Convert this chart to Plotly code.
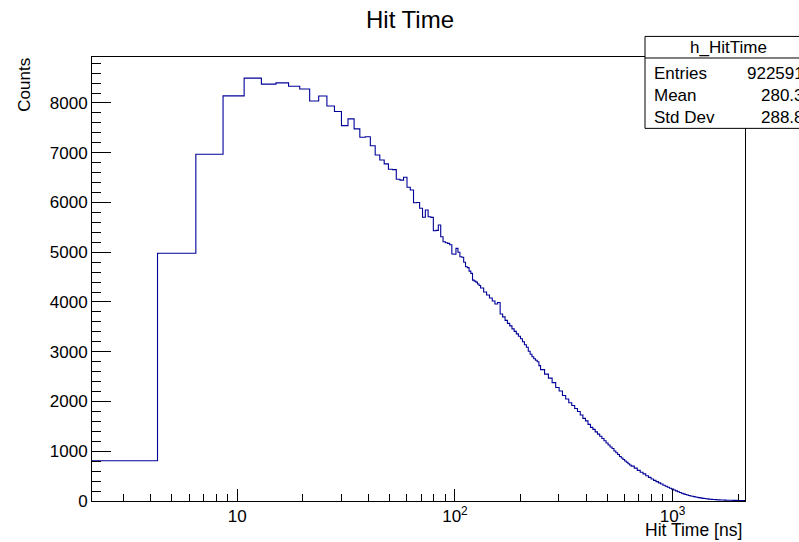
import plotly.graph_objects as go

# ---------------- data ----------------
bin_width = 2.15          # ns, 1000 bins from 0 to 2150 ns
n_bins_total = 1000

# bins 1..60, one original bin each (lower edge = 2.15*i)
counts_fine = [810, 4980, 6970, 8143, 8499, 8378, 8404, 8335, 8280, 8040,
               8140, 7940, 7830, 7545, 7680, 7480, 7310, 7320, 7140, 6955,
               6855, 6775, 6668, 6660, 6467, 6450, 6507, 6306, 6250, 5996,
               6000, 5883, 5702, 5849, 5714, 5700, 5433, 5440, 5547, 5312,
               5211, 5190, 5179, 5150, 4964, 4960, 5078, 5000, 4910, 4900,
               4800, 4708, 4690, 4620, 4575, 4440, 4420, 4400, 4360, 4330]
# from bin 61: groups of 2 original bins (27 groups)
counts_mid = [4280, 4200, 4140, 4080, 4020, 3960, 3990, 3760, 3700, 3630,
              3570, 3520, 3460, 3410, 3360, 3310, 3260, 3200, 3140, 3090,
              3010, 2950, 2900, 2860, 2830, 2800, 2720]
# from bin 115: groups of 5 original bins (37 groups)
counts_tail = [2640, 2550, 2470, 2380, 2280, 2210, 2120, 2050, 1975, 1920,
               1860, 1800, 1730, 1660, 1610, 1540, 1480, 1440, 1390, 1345,
               1300, 1255, 1210, 1165, 1125, 1085, 1055, 1005, 970, 935,
               895, 865, 835, 805, 780, 750, 725]
# from bin 300: groups of 10 original bins (70 groups)
counts_far = [700, 660, 615, 578, 545, 508, 475, 442, 415, 390,
              365, 342, 318, 297, 276, 256, 238, 220, 203, 187,
              170, 156, 143, 132, 121, 111, 102, 94, 87, 80,
              74, 68, 63, 58, 53, 49, 45, 42, 38, 35,
              33, 31, 29, 27, 25, 23, 22, 21, 20, 19,
              18, 17, 16, 16, 15, 15, 14, 14, 13, 13,
              12, 12, 11, 11, 11, 10, 10, 10, 9, 9]

stat_names = ["Entries", "Mean", "Std Dev"]
stat_values = ["922591", "280.3", "288.8"]
hist_name = "h_HitTime"

y_ticks = [0, 1000, 2000, 3000, 4000, 5000, 6000, 7000, 8000]
x_major = [10, 100, 1000]
x_major_text = ["10", "10<sup>2</sup>", "10<sup>3</sup>"]
x_minor = [3, 4, 5, 6, 7, 8, 9, 20, 30, 40, 50, 60, 70, 80, 90,
           200, 300, 400, 500, 600, 700, 800, 900, 2000]

# ---------------- build the step path ----------------
edges_idx = []
vals = []
i = 1
for c in counts_fine:
    edges_idx.append(i); vals.append(c); i += 1
for c in counts_mid:
    edges_idx.append(i); vals.append(c); i += 2
for c in counts_tail:
    edges_idx.append(i); vals.append(c); i += 5
for c in counts_far:
    edges_idx.append(i); vals.append(c); i += 10
xs = [k * bin_width for k in edges_idx] + [n_bins_total * bin_width]
ys = vals + [vals[-1]]

# ---------------- figure ----------------
W, H = 799, 542
L, R, T, B = 92, 745, 57.3, 501.5
pw, ph = R - L, B - T

def px(x):
    return (x - L) / pw

def py(y):
    return (B - y) / ph

FONT = "Liberation Sans, Arial, sans-serif"
line_col = "#000099"

fig = go.Figure()
fig.add_trace(go.Scatter(x=xs, y=ys, mode="lines",
                         line=dict(shape="hv", color=line_col, width=1.1),
                         hoverinfo="skip", showlegend=False))

fig.update_layout(
    width=W, height=H,
    margin=dict(l=L, r=W - R, t=T, b=H - B),
    paper_bgcolor="white", plot_bgcolor="white",
    font=dict(family=FONT, size=17, color="black"),
    title=dict(text="Hit Time", x=410 / W, y=1 - 20 / H,
               xanchor="center", yanchor="middle",
               font=dict(family=FONT, size=24, color="black")),
)

ymax = 8924
fig.update_xaxes(type="log", range=[0.33244, 3.33244],
                 showgrid=False, zeroline=False,
                 showline=True, linecolor="black", linewidth=1, mirror=True,
                 ticks="inside", ticklen=12, tickcolor="black", tickwidth=1,
                 tickmode="array", tickvals=x_major, ticktext=x_major_text,
                 tickfont=dict(family=FONT, size=17),
                 minor=dict(tickmode="array", tickvals=x_minor, ticks="inside",
                            ticklen=7, tickcolor="black", showgrid=False))
fig.update_yaxes(range=[0, ymax], showgrid=False, zeroline=False,
                 showline=True, linecolor="black", linewidth=1, mirror=True,
                 ticks="inside", ticklen=19, tickcolor="black", tickwidth=1,
                 tickmode="array", tickvals=y_ticks,
                 tickfont=dict(family=FONT, size=17),
                 minor=dict(dtick=200, ticks="inside", ticklen=9,
                            tickcolor="black", showgrid=False))

ann = []
# axis titles
ann.append(dict(text="Hit Time [ns]", xref="paper", yref="paper",
                x=px(744), y=py(531), xanchor="right", yanchor="middle",
                showarrow=False, font=dict(family=FONT, size=17.5)))
ann.append(dict(text="Counts", xref="paper", yref="paper",
                x=px(25), y=py(85), xanchor="center", yanchor="middle",
                textangle=-90, showarrow=False, font=dict(family=FONT, size=17)))

# stats box
box_x0, box_x1 = 645, 812
box_y0, box_y1 = 36.7, 128.7
sep_y = 58.3
shapes = [
    dict(type="rect", xref="paper", yref="paper",
         x0=px(box_x0), x1=px(box_x1), y0=py(box_y1), y1=py(box_y0),
         line=dict(color="black", width=1), fillcolor="white", layer="above"),
    dict(type="line", xref="paper", yref="paper",
         x0=px(box_x0), x1=px(box_x1), y0=py(sep_y), y1=py(sep_y),
         line=dict(color="black", width=1), layer="above"),
]
ann.append(dict(text=hist_name, xref="paper", yref="paper",
                x=px(728), y=py(47.5), xanchor="center", yanchor="middle",
                showarrow=False, font=dict(family=FONT, size=17)))
row_y = [73.5, 95.5, 117.5]
for name, val, yy in zip(stat_names, stat_values, row_y):
    ann.append(dict(text=name, xref="paper", yref="paper",
                    x=px(652), y=py(yy), xanchor="left", yanchor="middle",
                    showarrow=False, font=dict(family=FONT, size=17)))
    ann.append(dict(text=val, xref="paper", yref="paper",
                    x=px(806), y=py(yy), xanchor="right", yanchor="middle",
                    showarrow=False, font=dict(family=FONT, size=17)))

fig.update_layout(annotations=ann, shapes=shapes)
fig.write_html("out.html",
               config={"displayModeBar": False},
               post_script="document.body.style.margin='0';"
                           "document.body.style.overflow='hidden';")
